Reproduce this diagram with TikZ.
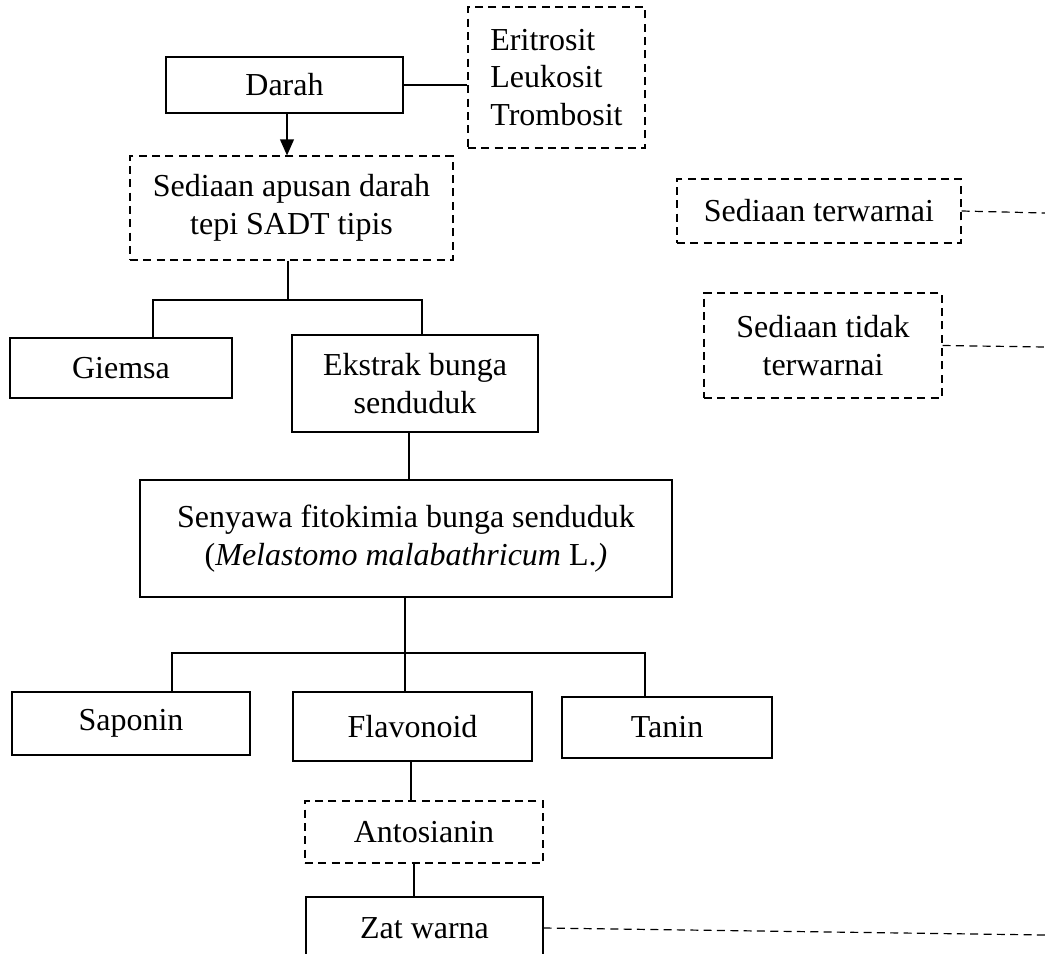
\documentclass[tikz,border=0pt]{standalone}
\usepackage{fontspec}
\setmainfont{Liberation Serif}
\usepackage{tikz}
\usetikzlibrary{arrows.meta, positioning, calc}
\newcommand{\pxu}{0.375pt}

\begin{document}
\begin{tikzpicture}[
    x=0.375pt, y=-0.375pt,
    box/.style={rectangle, draw=black, line width=0.45pt, inner sep=0pt, align=center, font=\fontsize{12}{14.1}\selectfont},
    dbox/.style={box, dash pattern=on 3pt off 2pt},
    line/.style={line width=0.45pt},
    dline/.style={line, dash pattern=on 3pt off 2pt},
    arrow/.style={line, -{Triangle[length=6pt, width=5.2pt]}}
]
\useasboundingbox (0,0) rectangle (1045,953);
\clip (0,0) rectangle (1045,953);

\node[box, minimum width=237*\pxu, minimum height=56*\pxu] (darah) at (284.5,85) {Darah};
\node[dbox, align=left, minimum width=177*\pxu, minimum height=141*\pxu] (sel) at (556.5,77.5) {Eritrosit\\Leukosit\\Trombosit};
\node[dbox, minimum width=323*\pxu, minimum height=104*\pxu] (sadt) at (291.5,208) {Sediaan apusan darah\\tepi SADT tipis};
\node[box, minimum width=222*\pxu, minimum height=60*\pxu] (giemsa) at (121,368) {Giemsa};
\node[box, minimum width=246*\pxu, minimum height=97*\pxu] (ekstrak) at (415,383.5) {Ekstrak bunga\\senduduk};
\node[box, minimum width=532*\pxu, minimum height=117*\pxu] (fitokimia) at (406,538.5) {Senyawa fitokimia bunga senduduk\\(\textit{Melastomo malabathricum} L.\textit{)}};
\node[box, minimum width=238*\pxu, minimum height=63*\pxu] (saponin) at (131,723.5) {Saponin};
\node[box, minimum width=239*\pxu, minimum height=69*\pxu] (flavonoid) at (412.5,726.5) {Flavonoid};
\node[box, minimum width=210*\pxu, minimum height=61*\pxu] (tanin) at (667,727.5) {Tanin};
\node[dbox, minimum width=238*\pxu, minimum height=62*\pxu] (antosianin) at (424,832) {Antosianin};
\node[box, minimum width=237*\pxu, minimum height=62*\pxu] (zatwarna) at (424.5,928) {Zat warna};
\node[dbox, minimum width=284*\pxu, minimum height=64*\pxu] (terwarnai) at (819,211) {Sediaan terwarnai};
\node[dbox, minimum width=238*\pxu, minimum height=105*\pxu] (tidak) at (823,345.5) {Sediaan tidak\\terwarnai};

% branch points
\coordinate (b1) at (288,300);
\coordinate (b1l) at (153,300);
\coordinate (b1r) at (422,300);
\coordinate (c1) at (409,480);
\coordinate (b2) at (405,653);
\coordinate (b2l) at (172,653);
\coordinate (b2r) at (645,653);
\coordinate (c2) at (411,780);
\coordinate (c3) at (414,880);
% loose ends at the right margin
\coordinate (e1) at (1045,213);
\coordinate (e2) at (1045,347);
\coordinate (e3) at (1045,935);

\draw[line] (darah.east) -- (darah.east -| sel.west);
\draw[arrow] ([xshift=2.5*\pxu]darah.south) -- ([xshift=2.5*\pxu]darah.south |- sadt.north);
\draw[line] (b1 |- sadt.south) -- (b1);
\draw[line] (b1l |- giemsa.north) -- (b1l) -- (b1r) -- (b1r |- ekstrak.north);
\draw[line] (c1 |- ekstrak.south) -- (c1 |- fitokimia.north);
\draw[line] (b2 |- fitokimia.south) -- (b2 |- flavonoid.north);
\draw[line] (b2l |- saponin.north) -- (b2l) -- (b2r) -- (b2r |- tanin.north);
\draw[line] (c2 |- flavonoid.south) -- (c2 |- antosianin.north);
\draw[line] (c3 |- antosianin.south) -- (c3 |- zatwarna.north);
\draw[dline] (terwarnai.east) -- (e1);
\draw[dline] (tidak.east) -- (e2);
\draw[dline] (zatwarna.east) -- (e3);

\end{tikzpicture}
\end{document}
